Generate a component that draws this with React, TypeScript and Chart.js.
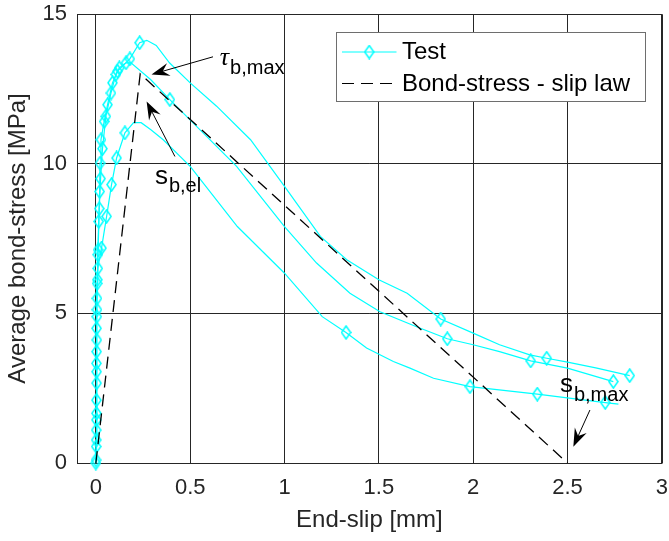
import React, { useEffect, useRef } from "react";
import { Chart, registerables } from "chart.js";

Chart.register(...registerables);

// ---------------- data ----------------
const testAX = [0, 0.002, 0.003, 0.004, 0.004, 0.005, 0.007, 0.010, 0.015, 0.020, 0.022, 0.027, 0.044, 0.062, 0.088, 0.115, 0.180, 0.232, 0.270, 0.320, 0.390, 0.500, 0.640, 0.820, 1.000, 1.190, 1.330, 1.500, 1.650, 1.828, 2.000, 2.140, 2.300, 2.390, 2.500, 2.650, 2.830];
const testAY = [0, 0.55, 1.44, 2.67, 3.72, 4.89, 6.00, 6.96, 8.07, 9.07, 10.02, 10.80, 11.41, 11.97, 12.70, 13.09, 13.50, 14.04, 14.12, 13.95, 13.37, 12.70, 11.92, 10.80, 9.24, 7.57, 6.79, 6.12, 5.67, 4.81, 4.34, 3.95, 3.61, 3.50, 3.37, 3.18, 2.92];
const testAMarks = [0, 1, 2, 3, 4, 5, 6, 7, 8, 9, 10, 11, 12, 13, 14, 15, 16, 17, 29, 33, 36];

const testBX = [0, 0.002, 0.003, 0.004, 0.005, 0.006, 0.008, 0.012, 0.018, 0.025, 0.035, 0.053, 0.080, 0.106, 0.124, 0.160, 0.186, 0.290, 0.392, 0.498, 0.746, 1.000, 1.170, 1.347, 1.506, 1.700, 1.863, 2.000, 2.140, 2.305, 2.500, 2.743];
const testBY = [0, 0.77, 1.66, 3.05, 4.11, 5.12, 6.12, 7.12, 8.50, 9.50, 10.50, 11.58, 12.36, 12.98, 13.20, 13.37, 13.37, 12.81, 12.14, 11.47, 9.91, 7.90, 6.68, 5.67, 5.05, 4.55, 4.15, 3.95, 3.72, 3.41, 3.17, 2.72];
const testBMarks = [1, 2, 3, 4, 5, 6, 7, 8, 9, 10, 11, 12, 13, 14, 15, 18, 26, 29, 31];

const testCX = [0, 0.001, 0.002, 0.003, 0.003, 0.004, 0.006, 0.010, 0.030, 0.057, 0.083, 0.110, 0.154, 0.200, 0.240, 0.290, 0.357, 0.500, 0.750, 1.000, 1.200, 1.326, 1.435, 1.577, 1.665, 1.790, 1.983, 2.340, 2.700, 2.770];
const testCY = [0, 0.10, 1.10, 2.10, 3.33, 4.50, 5.50, 6.50, 7.18, 8.24, 9.30, 10.19, 11.03, 11.37, 11.37, 11.14, 10.80, 9.91, 7.90, 6.34, 4.89, 4.36, 3.84, 3.39, 3.17, 2.83, 2.55, 2.30, 2.02, 1.97];
const testCMarks = [1, 2, 3, 4, 5, 6, 7, 8, 9, 10, 11, 12, 21, 26, 27, 28];

const lawX = [0, 0.235, 2.5];
const lawY = [0, 13.0, 0];

const xTicks = [0, 0.5, 1, 1.5, 2, 2.5, 3];
const yTicks = [0, 5, 10, 15];
const xMin = -0.1;
const xMax = 3;
const yMin = 0;
const yMax = 15;

const xTitle = "End-slip [mm]";
const yTitle = "Average bond-stress [MPa]";
const testLabel = "Test";
const lawLabel = "Bond-stress - slip law";

// annotation texts (main + subscript), anchored in data coordinates
const annoMain = ["τ", "s", "s"];
const annoSub = ["b,max", "b,el", "b,max"];
const annoItalic = [true, false, false];
const annoTextAt = [[0.657, 13.28], [0.313, 9.33], [2.46, 2.37]];
const annoArrowFrom = [[0.621, 13.57], [0.419, 10.24], [2.619, 1.77]];
const annoArrowTo = [[0.295, 12.98], [0.269, 12.08], [2.531, 0.545]];

// ---------------- styles ----------------
const CYAN = "#00FFFF";
const AXIS_COLOR = "#262626";
const FONT = "'Liberation Sans', Arial, Helvetica, sans-serif";

function makeDiamond(w: number, h: number, color: string, lw: number) {
  const c = document.createElement("canvas");
  c.width = w;
  c.height = h;
  const g = c.getContext("2d")!;
  g.strokeStyle = color;
  g.lineWidth = lw;
  const m = lw / 2 + 0.2;
  g.beginPath();
  g.moveTo(w / 2, m);
  g.lineTo(w - m, h / 2);
  g.lineTo(w / 2, h - m);
  g.lineTo(m, h / 2);
  g.closePath();
  g.stroke();
  return c;
}

function drawArrow(ctx: CanvasRenderingContext2D, x0: number, y0: number, x1: number, y1: number) {
  const dx = x1 - x0;
  const dy = y1 - y0;
  const len = Math.hypot(dx, dy);
  const ux = dx / len;
  const uy = dy / len;
  const nx = -uy;
  const ny = ux;
  const L = 18;
  const W = 13;
  ctx.save();
  ctx.strokeStyle = "#000";
  ctx.fillStyle = "#000";
  ctx.lineWidth = 1;
  ctx.beginPath();
  ctx.moveTo(x0, y0);
  ctx.lineTo(x1 - ux * L * 0.6, y1 - uy * L * 0.6);
  ctx.stroke();
  ctx.beginPath();
  ctx.moveTo(x1, y1);
  ctx.lineTo(x1 - ux * L + nx * W / 2, y1 - uy * L + ny * W / 2);
  ctx.lineTo(x1 - ux * L * 0.65, y1 - uy * L * 0.65);
  ctx.lineTo(x1 - ux * L - nx * W / 2, y1 - uy * L - ny * W / 2);
  ctx.closePath();
  ctx.fill();
  ctx.restore();
}

export default function App() {
  const ref = useRef<HTMLCanvasElement | null>(null);

  useEffect(() => {
    const canvas = ref.current;
    if (!canvas) return;
    const diamond = makeDiamond(11, 15, CYAN, 1.5);

    const pts = (xs: number[], ys: number[]) => xs.map((x, i) => ({ x, y: ys[i] }));
    const radii = (n: number, marks: number[]) =>
      Array.from({ length: n }, (_, i) => (marks.includes(i) ? 6 : 0));

    const testDataset = (xs: number[], ys: number[], marks: number[]) => ({
      label: testLabel,
      data: pts(xs, ys),
      showLine: true,
      borderColor: CYAN,
      backgroundColor: "transparent",
      borderWidth: 1.2,
      pointStyle: diamond as any,
      pointRadius: radii(xs.length, marks),
      pointHoverRadius: 0,
      tension: 0,
      clip: false as any,
      order: 1,
    });

    const boxPlugin = {
      id: "boxPlugin",
      afterDatasetsDraw(chart: any) {
        const { ctx, chartArea } = chart;
        ctx.save();
        ctx.strokeStyle = AXIS_COLOR;
        ctx.lineWidth = 1;
        ctx.beginPath();
        const r = Math.round(chartArea.right) + 0.5;
        const t = Math.round(chartArea.top) + 0.5;
        ctx.moveTo(Math.round(chartArea.left) + 0.5, t);
        ctx.lineTo(r, t);
        ctx.lineTo(r, Math.round(chartArea.bottom) + 0.5);
        ctx.stroke();
        ctx.restore();
      },
    };

    const annoPlugin = {
      id: "annoPlugin",
      afterDatasetsDraw(chart: any) {
        const { ctx } = chart;
        const xs = chart.scales.x;
        const ys = chart.scales.y;
        ctx.save();
        for (let i = 0; i < annoMain.length; i++) {
          const px = xs.getPixelForValue(annoTextAt[i][0]);
          const py = ys.getPixelForValue(annoTextAt[i][1]);
          ctx.fillStyle = "#000";
          ctx.textBaseline = "alphabetic";
          ctx.textAlign = "left";
          ctx.font = annoItalic[i] ? "italic 26px 'Liberation Serif', serif" : `26px ${FONT}`;
          ctx.fillText(annoMain[i], px, py);
          const w = ctx.measureText(annoMain[i]).width;
          ctx.font = `20px ${FONT}`;
          ctx.fillText(annoSub[i], px + w + 1, py + 8.5);
          drawArrow(
            ctx,
            xs.getPixelForValue(annoArrowFrom[i][0]),
            ys.getPixelForValue(annoArrowFrom[i][1]),
            xs.getPixelForValue(annoArrowTo[i][0]),
            ys.getPixelForValue(annoArrowTo[i][1])
          );
        }
        ctx.restore();
      },
    };

    const legendPlugin = {
      id: "customLegend",
      afterDraw(chart: any) {
        const { ctx, chartArea } = chart;
        const bw = 309;
        const bh = 69;
        const bx = Math.round(chartArea.right - 17 - bw) + 0.5;
        const by = Math.round(chartArea.top + 18) + 0.5;
        ctx.save();
        ctx.fillStyle = "#fff";
        ctx.fillRect(bx, by, bw, bh);
        ctx.strokeStyle = "#6e6e6e";
        ctx.lineWidth = 1;
        ctx.strokeRect(bx, by, bw, bh);
        const sx0 = bx + 5.5;
        const sx1 = bx + 60;
        const row1 = by + 19.5;
        const row2 = by + 51;
        ctx.strokeStyle = CYAN;
        ctx.lineWidth = 1.2;
        ctx.beginPath();
        ctx.moveTo(sx0, row1);
        ctx.lineTo(sx1, row1);
        ctx.stroke();
        ctx.drawImage(diamond, (sx0 + sx1) / 2 - diamond.width / 2, row1 - diamond.height / 2);
        ctx.strokeStyle = "#000";
        ctx.lineWidth = 1.2;
        ctx.setLineDash([12, 7]);
        ctx.beginPath();
        ctx.moveTo(sx0, row2);
        ctx.lineTo(sx1, row2);
        ctx.stroke();
        ctx.setLineDash([]);
        ctx.fillStyle = "#000";
        ctx.font = `24px ${FONT}`;
        ctx.textBaseline = "alphabetic";
        ctx.textAlign = "left";
        ctx.fillText(testLabel, bx + 65.5, by + 26.5);
        ctx.fillText(lawLabel, bx + 65.5, by + 58);
        ctx.restore();
      },
    };

    const chart = new Chart(canvas, {
      type: "scatter",
      data: {
        datasets: [
          {
            label: lawLabel,
            data: pts(lawX, lawY),
            showLine: true,
            borderColor: "#000",
            borderWidth: 1.3,
            borderDash: [12, 7],
            pointRadius: 0,
            pointHoverRadius: 0,
            tension: 0,
            clip: false as any,
            order: 0,
          } as any,
          testDataset(testAX, testAY, testAMarks) as any,
          testDataset(testBX, testBY, testBMarks) as any,
          testDataset(testCX, testCY, testCMarks) as any,
        ],
      },
      options: {
        responsive: false,
        animation: false,
        events: [],
        devicePixelRatio: 1,
        layout: { padding: { left: 0, top: 14, right: 7, bottom: 0 } },
        plugins: {
          legend: { display: false },
          tooltip: { enabled: false },
        },
        scales: {
          x: {
            type: "linear",
            min: xMin,
            max: xMax,
            afterBuildTicks: (s: any) => {
              s.ticks = xTicks.map((v) => ({ value: v }));
            },
            afterFit: (s: any) => {
              s.height = 78;
              s.paddingLeft = 0;
              s.paddingRight = 0;
              s.paddingTop = 0;
              s.paddingBottom = 0;
            },
            grid: { color: AXIS_COLOR, lineWidth: 1, drawTicks: false },
            border: { display: true, color: AXIS_COLOR, width: 1 },
            ticks: {
              color: AXIS_COLOR,
              font: { family: FONT, size: 22 },
              padding: 12,
              maxRotation: 0,
              autoSkip: false,
              callback: (v: any) => String(v),
            },
            title: {
              display: true,
              text: xTitle,
              color: AXIS_COLOR,
              font: { family: FONT, size: 24 },
              padding: { top: 0, bottom: 6 },
            },
          },
          y: {
            type: "linear",
            min: yMin,
            max: yMax,
            afterBuildTicks: (s: any) => {
              s.ticks = yTicks.map((v) => ({ value: v }));
            },
            afterFit: (s: any) => {
              s.width = 77;
              s.paddingLeft = 0;
              s.paddingRight = 0;
              s.paddingTop = 0;
              s.paddingBottom = 0;
            },
            grid: { color: AXIS_COLOR, lineWidth: 1, drawTicks: false },
            border: { display: true, color: AXIS_COLOR, width: 1 },
            ticks: {
              color: AXIS_COLOR,
              font: { family: FONT, size: 22 },
              padding: 10,
              autoSkip: false,
              callback: (v: any) => String(v),
            },
            title: {
              display: true,
              text: yTitle,
              color: AXIS_COLOR,
              font: { family: FONT, size: 24 },
              padding: { top: 4, bottom: 0 },
            },
          },
        },
      },
      plugins: [boxPlugin, annoPlugin, legendPlugin],
    });

    return () => {
      chart.destroy();
    };
  }, []);

  return (
    <canvas
      ref={ref}
      width={669}
      height={541}
      style={{ position: "absolute", left: 0, top: 0, width: 669, height: 541, display: "block" }}
    />
  );
}
